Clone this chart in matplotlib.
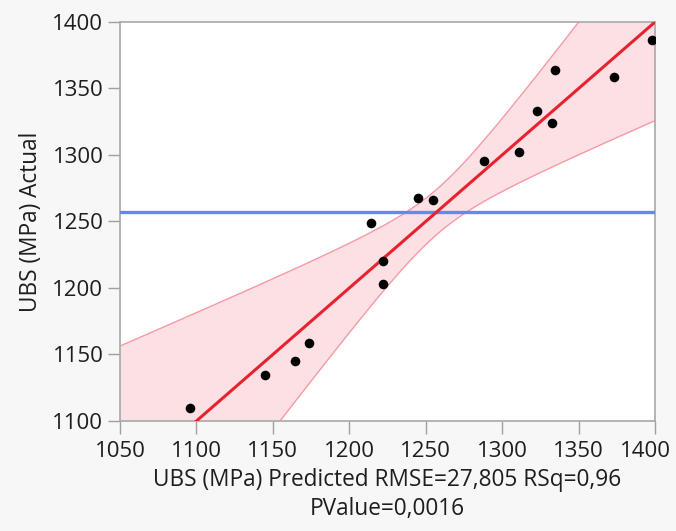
import numpy as np
import matplotlib

matplotlib.use("Agg")
import matplotlib.pyplot as plt
from matplotlib.transforms import ScaledTranslation

# values
predicted = [1095.9, 1145.0, 1164.6, 1173.5, 1214.1, 1222.1, 1222.1, 1244.8,
             1255.0, 1288.1, 1311.3, 1322.6, 1332.3, 1334.5, 1373.2, 1398.0]
actual = [1110.0, 1134.5, 1145.0, 1158.7, 1248.6, 1220.6, 1202.7, 1267.6,
          1265.9, 1295.6, 1302.6, 1332.8, 1323.8, 1363.8, 1358.8, 1386.8]
ticks = [1050, 1100, 1150, 1200, 1250, 1300, 1350, 1400]
yticks = [1100, 1150, 1200, 1250, 1300, 1350, 1400]

# fit stats shown in the axis label
RMSE = 27.805
RSQ = 0.96
N_PARAMS = 10          # model terms incl. intercept (p=0.0016 with n=16)
T_CRIT = 2.447         # t(0.975, df=6)
F_CRIT = 4.099         # F(0.95; 9, 6)

plt.rcParams["font.family"] = ["Open Sans", "DejaVu Sans"]

fig = plt.figure(figsize=(6.76, 5.31), dpi=100, facecolor="#f7f7f7")
ax = fig.add_axes([0.1775, 0.2072, 0.7915, 0.7514])
ax.set_facecolor("white")

x = np.array(predicted)
y = np.array(actual)
n = len(y)
ybar = y.mean()
df_err = n - N_PARAMS
f_model = (RSQ / (N_PARAMS - 1)) / ((1 - RSQ) / df_err)

# leverage-plot style confidence curves around the y = x line
grid = np.linspace(1000, 1450, 400)
half = np.sqrt(T_CRIT**2 * RMSE**2 / n + (F_CRIT / f_model) * (grid - ybar) ** 2)
ax.fill_between(grid, grid - half, grid + half, color="#fde0e4", lw=0, zorder=1)
ax.plot(grid, grid + half, color="#f59aa5", lw=1.0, zorder=2)
ax.plot(grid, grid - half, color="#f59aa5", lw=1.0, zorder=2)

ax.axhline(ybar, color="#5b8cf0", lw=2.4, zorder=3)
ax.plot(grid, grid, color="#e8222e", lw=2.2, zorder=4)
ax.scatter(x, y, s=48, color="black", zorder=5, linewidths=0)

ax.set_xlim(1050, 1400)
ax.set_ylim(1100, 1400)
ax.set_xticks(ticks)
ax.set_yticks(yticks)
ax.tick_params(direction="out", length=9, width=1, color="#a0a0a0",
               labelsize=16, labelcolor="#1e1e1e")
ax.tick_params(axis="x", pad=5.5)
ax.tick_params(axis="y", pad=3)
for s in ax.spines.values():
    s.set_color("#a8a8a8")
    s.set_linewidth(1.2)

# last x tick label is nudged left so it stays inside the frame
last = ax.get_xticklabels()[-1]
last.set_transform(last.get_transform() + ScaledTranslation(-0.10, 0, fig.dpi_scale_trans))

ax.set_ylabel("UBS (MPa) Actual", fontsize=16.3, color="#1e1e1e", labelpad=7)
ax.set_xlabel("UBS (MPa) Predicted RMSE=27,805 RSq=0,96\nPValue=0,0016",
              fontsize=16.3, color="#1e1e1e", labelpad=4, linespacing=1.3)

fig.savefig("out.png", dpi=100, facecolor=fig.get_facecolor())
